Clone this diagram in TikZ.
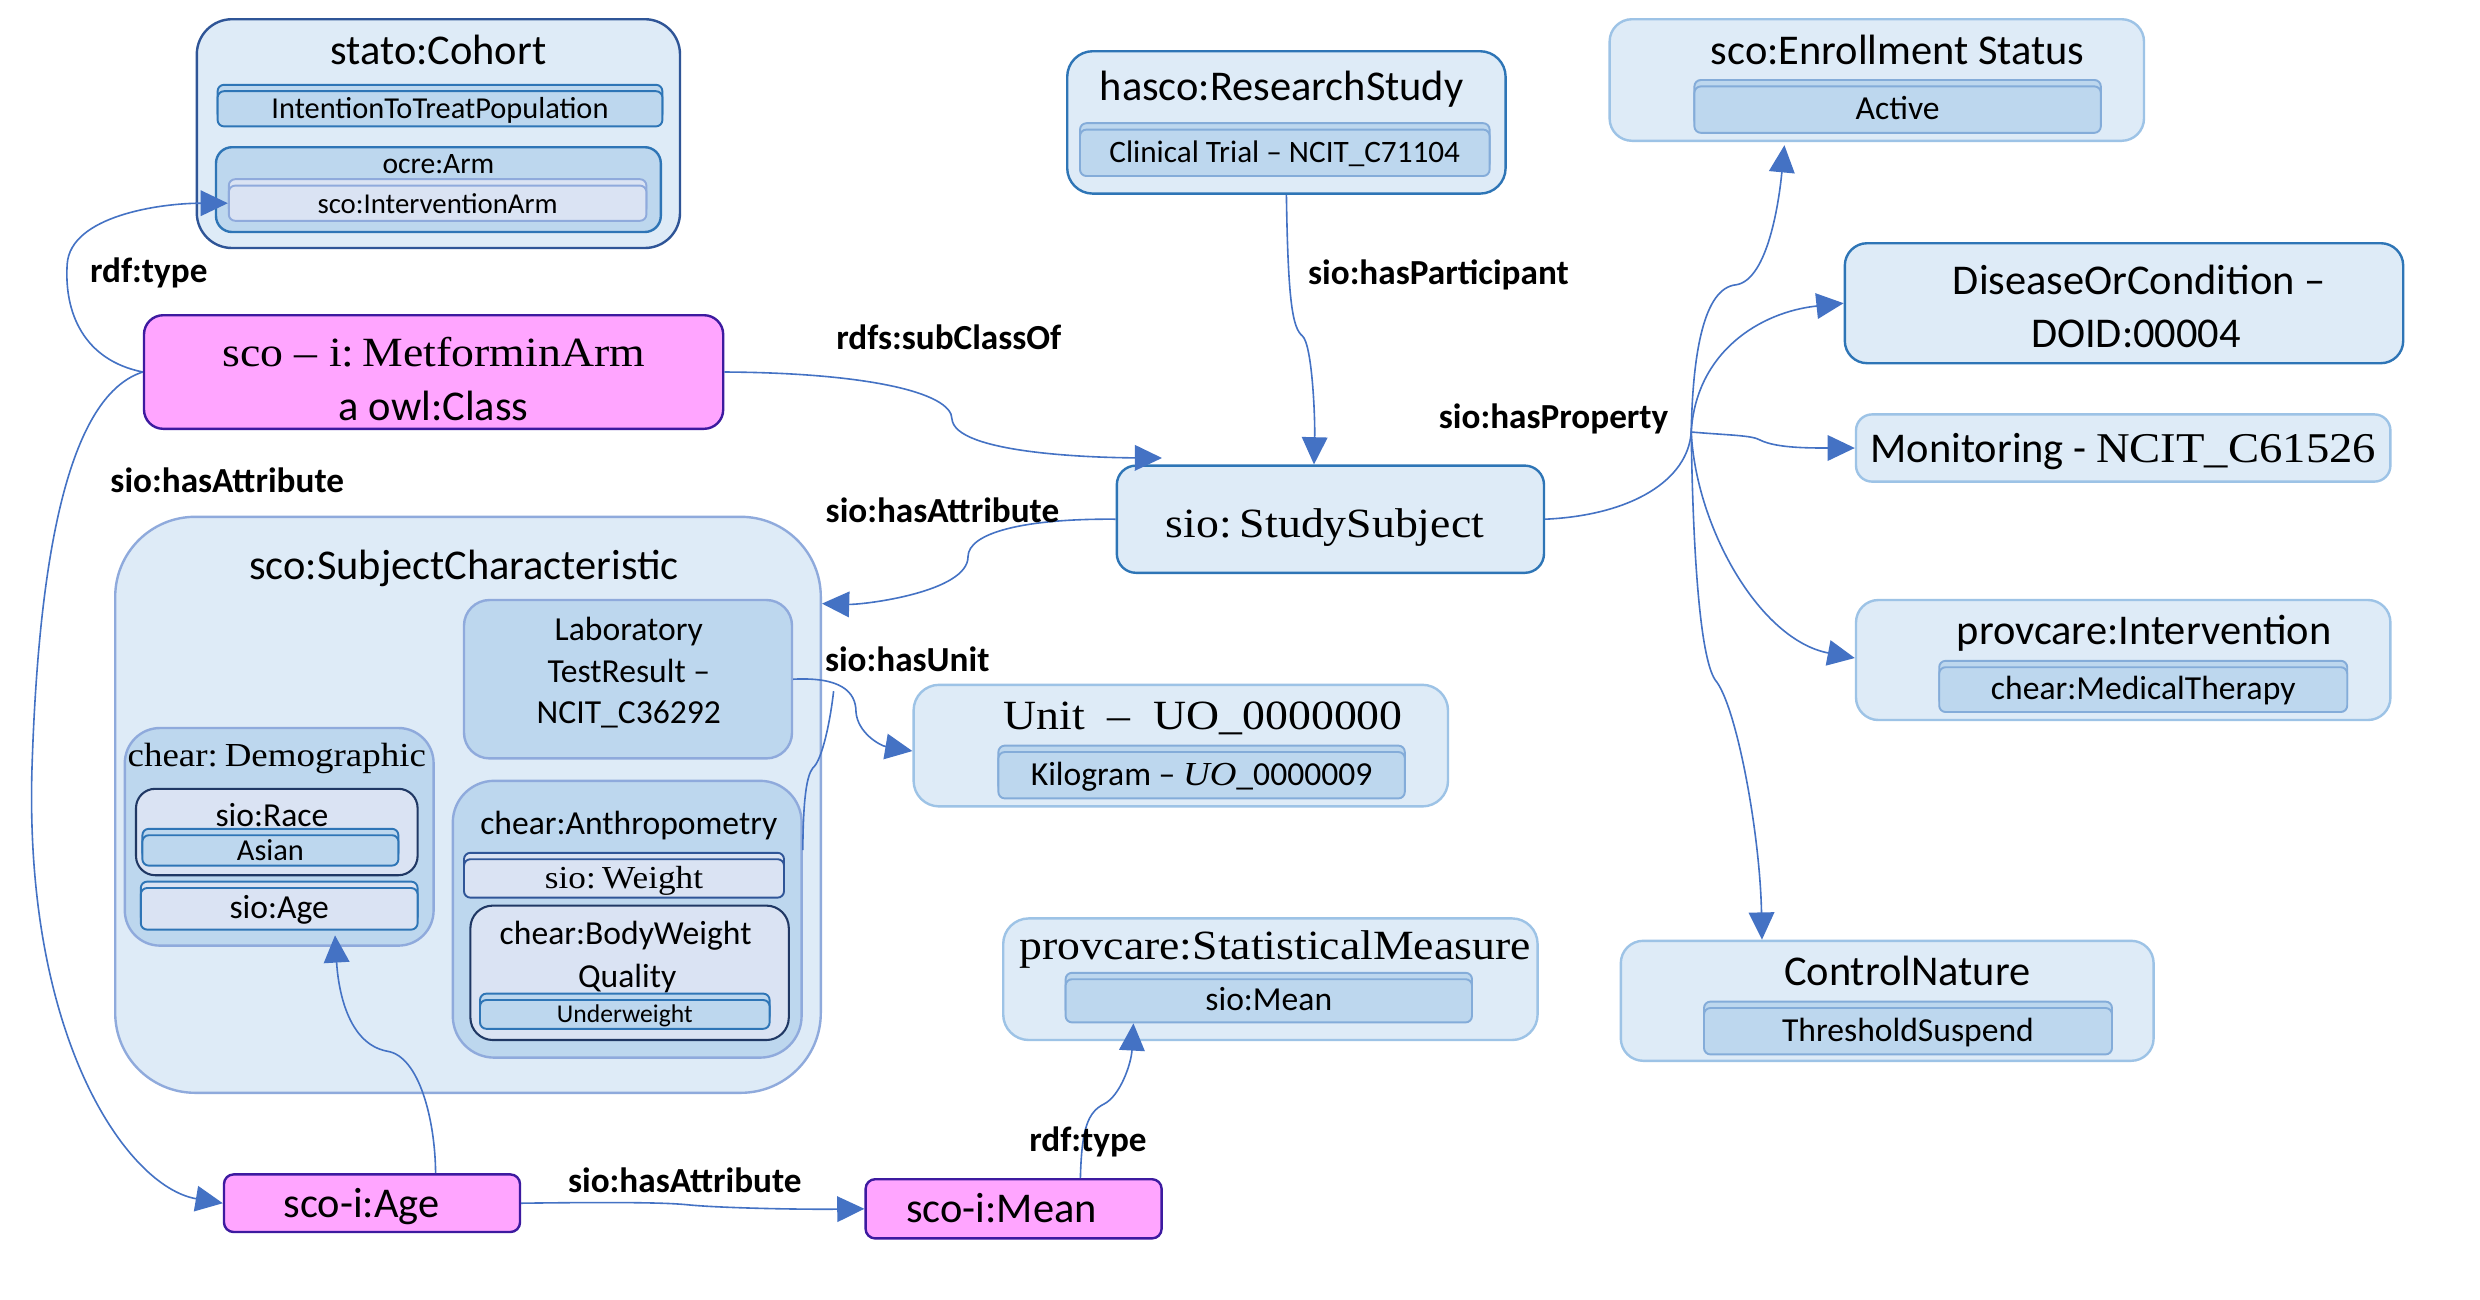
\documentclass[tikz,border=0pt]{standalone}
\usepackage{fontspec}
\setmainfont{Carlito}
\newfontfamily\cam[FakeStretch=1.1]{Liberation Serif}
\usetikzlibrary{arrows.meta}

\definecolor{lfill}{HTML}{DEEBF7}
\definecolor{mfill}{HTML}{BDD7EE}
\definecolor{pfill}{HTML}{DAE3F3}
\definecolor{bdark}{HTML}{2F5597}
\definecolor{bmed}{HTML}{2E75B6}
\definecolor{blight}{HTML}{9DC3E6}
\definecolor{bsc}{HTML}{8FAADC}
\definecolor{bnavy}{HTML}{203864}
\definecolor{mag}{HTML}{FFA5FF}
\definecolor{purp}{HTML}{3D1AA0}
\definecolor{edgec}{HTML}{4472C4}
\definecolor{bbar}{HTML}{84ACD9}

\newcommand\mkbox[7]{%
  \node[#1, minimum width={#5pt-#3pt}, minimum height={#6pt-#4pt}] (#2) at ({(#3+#5)/2},{(#4+#6)/2}) {#7};}
\newcommand\mkbar[7]{%
  \node[#1, minimum width={#5pt-#3pt}, minimum height={#6pt-#4pt}] (#2b) at ({(#3+#5)/2},{(#4+#6)/2-4}) {};
  \node[#1, minimum width={#5pt-#3pt}, minimum height={#6pt-#4pt}] (#2) at ({(#3+#5)/2},{(#4+#6)/2}) {#7};}

\tikzset{
  outer/.style={draw=blight, fill=lfill, line width=1.5pt, rounded corners=14pt, inner sep=0pt},
  inst/.style={draw=purp, fill=mag, line width=1.5pt, rounded corners=6pt, inner sep=0pt},
  bar/.style={draw=bbar, fill=mfill, line width=1.2pt, rounded corners=4pt, inner sep=0pt,
    font=\fontsize{21}{25}\selectfont, text height=15.5pt, text depth=3pt},
  tt/.style={inner sep=0pt, font=\fontsize{26.5}{30}\selectfont, text height=19.5pt, text depth=3.5pt},
  tc/.style={inner sep=0pt, font=\cam\fontsize{26}{30}\selectfont, text height=19pt, text depth=3.5pt},
  ts/.style={inner sep=0pt, font=\fontsize{21}{25}\selectfont, text height=15.5pt, text depth=3pt},
  tcs/.style={inner sep=0pt, font=\cam\fontsize{21}{25}\selectfont, text height=15.5pt, text depth=3pt},
  lbl/.style={inner sep=0pt, font=\bfseries\fontsize{22}{26}\selectfont, text height=16pt, text depth=3pt},
  conn/.style={draw=edgec, line width=1pt},
  arr/.style={conn, -{Triangle[length=17pt,width=16pt]}},
}

\begin{document}
\begin{tikzpicture}[x=1pt,y=-1pt]
\useasboundingbox (0,0) rectangle (1550,812);
\fill[white] (0,0) rectangle (1550,812);

% stato:Cohort
\mkbox{outer,draw=bdark,rounded corners=22pt}{cohort}{123}{12}{425}{155}{}
\node[tt] (cohortT) at (274,32) {stato:Cohort};
\mkbar{bar,draw=bmed,font=\fontsize{19}{23}\selectfont}{itt}{136}{57}{414}{79}{IntentionToTreatPopulation}
\mkbox{outer,fill=mfill,draw=bmed,rounded corners=10pt}{arm}{135}{92}{413}{145}{}
\node[ts,font=\fontsize{18.5}{22}\selectfont] (armT) at (274,102) {ocre:Arm};
\mkbar{bar,fill=pfill,draw=bsc,font=\fontsize{18}{22}\selectfont}{intarm}{143}{116}{404}{138}{sco:InterventionArm}

% hasco:ResearchStudy
\mkbox{outer,draw=bmed,rounded corners=16pt}{rs}{667}{32}{941}{121}{}
\node[tt] (rsT) at (801,55) {hasco:ResearchStudy};
\mkbar{bar,font=\fontsize{19.5}{23}\selectfont}{ct}{675}{81}{931}{110}{Clinical Trial – NCIT\_C71104}

% sco:Enrollment Status
\mkbox{outer}{en}{1006}{12}{1340}{88}{}
\node[tt] (enT) at (1186,32) {sco:Enrollment Status};
\mkbar{bar}{act}{1059}{54}{1313}{83}{Active}

% DiseaseOrCondition
\mkbox{outer,draw=bmed}{dis}{1153}{152}{1502}{227}{}
\node[tt] (dis1) at (1337,176) {DiseaseOrCondition –};
\node[tt] (dis2) at (1335,209) {DOID:00004};

% Monitoring
\mkbox{outer,rounded corners=10pt}{mon}{1160}{259}{1494}{301}{}
\node[tt] (monT) at (1327,281) {Monitoring - {\cam NCIT\_C61526}};

% provcare:Intervention
\mkbox{outer}{pi}{1160}{375}{1494}{450}{}
\node[tt] (piT) at (1340,395) {provcare:Intervention};
\mkbar{bar}{mt}{1212}{417}{1467}{445}{chear:MedicalTherapy}

% ControlNature
\mkbox{outer}{cn}{1013}{588}{1346}{663}{}
\node[tt] (cnT) at (1192,608) {ControlNature};
\mkbar{bar}{thr}{1065}{630}{1320}{659}{ThresholdSuspend}

% sio: StudySubject
\mkbox{outer,draw=bmed,rounded corners=12pt}{ss}{698}{291}{965}{358}{}
\node[tc] (ssT) at (828,328) {sio:\kern-2pt\ StudySubject};

% MetforminArm
\mkbox{inst,rounded corners=12pt}{metf}{90}{197}{452}{268}{}
\node[tc] (metf1) at (271,221) {sco – i:\kern-2pt\ MetforminArm};
\node[tt] (metf2) at (271,255) {a owl:Class};

% sco:SubjectCharacteristic
\mkbox{outer,draw=bsc,rounded corners=50pt}{sc}{72}{323}{513}{683}{}
\node[tt] (scT) at (290,354) {sco:SubjectCharacteristic};
\mkbox{outer,fill=mfill,draw=bsc,rounded corners=16pt}{lab}{290}{375}{495}{474}{}
\node[ts] (lab1) at (393,394) {Laboratory};
\node[ts] (lab2) at (393,420) {TestResult –};
\node[ts] (lab3) at (393,446) {NCIT\_C36292};
\mkbox{outer,fill=mfill,draw=bsc,rounded corners=22pt}{demo}{78}{455}{271}{591}{}
\node[tcs] (demoT) at (173,473) {chear:\kern-1.5pt\ Demographic};
\mkbox{outer,fill=pfill,draw=bnavy,line width=1.3pt,rounded corners=12pt}{race}{85}{493}{261}{547}{}
\node[ts] (raceT) at (170,510) {sio:Race};
\mkbar{bar,draw=bmed,font=\fontsize{19}{23}\selectfont}{asian}{89}{522}{249}{541}{Asian}
\mkbar{bar,fill=pfill,draw=bmed}{agebar}{88}{555}{261}{581}{sio:Age}
\mkbox{outer,fill=mfill,draw=bsc,rounded corners=26pt}{anth}{283}{488}{501}{661}{}
\node[ts] (anthT) at (393,515) {chear:Anthropometry};
\mkbar{bar,fill=pfill,draw=bdark,font=\cam\fontsize{20}{24}\selectfont}{wt}{290}{537}{490}{561}{sio:\kern-1.5pt\ Weight}
\mkbox{outer,fill=pfill,draw=bnavy,line width=1.3pt,rounded corners=14pt}{bw}{294}{566}{493}{650}{}
\node[ts] (bw1) at (391,584) {chear:BodyWeight};
\node[ts] (bw2) at (392,611) {Quality};
\mkbar{bar,draw=bmed,font=\fontsize{16}{19}\selectfont,text height=12pt,text depth=2.5pt}{uw}{300}{625}{481}{643}{Underweight}

% Unit
\mkbox{outer,rounded corners=16pt}{unit}{571}{428}{905}{504}{}
\node[tc] (unitT) at (752,448) {Unit \ – \ UO\_0000000};
\mkbar{bar}{kg}{624}{470}{878}{499}{Kilogram – {\cam\itshape UO}\_0000009}

% provcare:StatisticalMeasure
\mkbox{outer,rounded corners=16pt}{stat}{627}{574}{961}{650}{}
\node[tc] (statT) at (797,592) {provcare:StatisticalMeasure};
\mkbar{bar}{meanbar}{666}{612}{920}{639}{sio:Mean}

% instances
\mkbox{inst}{age}{140}{734}{325}{770}{}
\node[tt] (ageT) at (226,753) {sco-i:Age};
\mkbox{inst}{mean}{541}{737}{726}{774}{}
\node[tt] (meanT) at (626,756) {sco-i:Mean};

% ---------- connectors ----------
\draw[arr] (metf.west) .. controls (52,225) and (40,195) .. (42,165)
  .. controls (44,135) and (100,127) .. (intarm.west);
\draw[arr] (metf.west) .. controls (50,245) and (25,320) .. (20,480)
  .. controls (15,650) and (80,742) .. (age.west);
\draw[arr] (metf.east) .. controls (540,233) and (595,245) .. (595,262)
  .. controls (597,283) and (680,286) .. ([xshift=29pt,yshift=4pt]ss.north west);
\draw[arr] (rs.south) .. controls (805,190) and (808,205) .. (814,210)
  .. controls (820,215) and (822,260) .. ([xshift=124pt]ss.north west);
\draw[arr] (ss.west) .. controls (640,324) and (605,333) .. (605,348)
  .. controls (605,370) and (540,378) .. ([yshift=-55pt]sc.north east);

\coordinate (hub) at (1057,270);
\draw[conn] (ss.east) .. controls (1020,322) and (1055,300) .. (hub);
\draw[arr] (hub) .. controls (1058,220) and (1065,180) .. (1085,178)
  .. controls (1105,175) and (1112,125) .. ([xshift=110pt,yshift=-2pt]en.south west);
\draw[arr] (hub) .. controls (1060,220) and (1100,195) .. (dis.west);
\draw[arr] (hub) .. controls (1080,272) and (1095,272) .. (1100,275)
  .. controls (1110,280) and (1130,280) .. (mon.west);
\draw[arr] (hub) .. controls (1060,330) and (1100,400) .. ([yshift=-37pt]pi.north west);
\draw[arr] (hub) .. controls (1058,340) and (1062,410) .. (1072,425)
  .. controls (1085,440) and (1100,520) .. ([xshift=89pt]cn.north west);

\draw[arr] (lab.east) .. controls (525,423) and (535,432) .. (535,445)
  .. controls (536,458) and (550,466) .. (unit.west |- kg.north);
\coordinate (unitjoin) at (521,432);
\draw[conn] ([yshift=-44pt]anth.north east) .. controls (502,500) and (504,485) .. (508,480)
  .. controls (514,475) and (519,450) .. (unitjoin);

\draw[arr] ([xshift=133pt]age.north west) .. controls (272,700) and (262,660) .. (242,657)
  .. controls (215,652) and (211,612) .. ([xshift=122pt,yshift=-3pt]agebar.south west);
\draw[arr] (age.east) .. controls (400,751) and (420,752) .. (430,753)
  .. controls (450,755) and (500,756) .. (mean.west);
\draw[arr] ([xshift=135pt]mean.north west) .. controls (676,705) and (680,695) .. (690,690)
  .. controls (700,685) and (707,665) .. ([xshift=43pt]meanbar.south west);

% ---------- labels ----------
\node[lbl] (l1) at (93,170) {rdf:type};
\node[lbl] (l2) at (142,301) {sio:hasAttribute};
\node[lbl] (l3) at (593,212) {rdfs:subClassOf};
\node[lbl] (l4) at (899,171) {sio:hasParticipant};
\node[lbl] (l5) at (589,320) {sio:hasAttribute};
\node[lbl] (l6) at (971,261) {sio:hasProperty};
\node[lbl] (l7) at (567,413) {sio:hasUnit};
\node[lbl] (l8) at (428,739) {sio:hasAttribute};
\node[lbl] (l9) at (680,713) {rdf:type};
\end{tikzpicture}
\end{document}
